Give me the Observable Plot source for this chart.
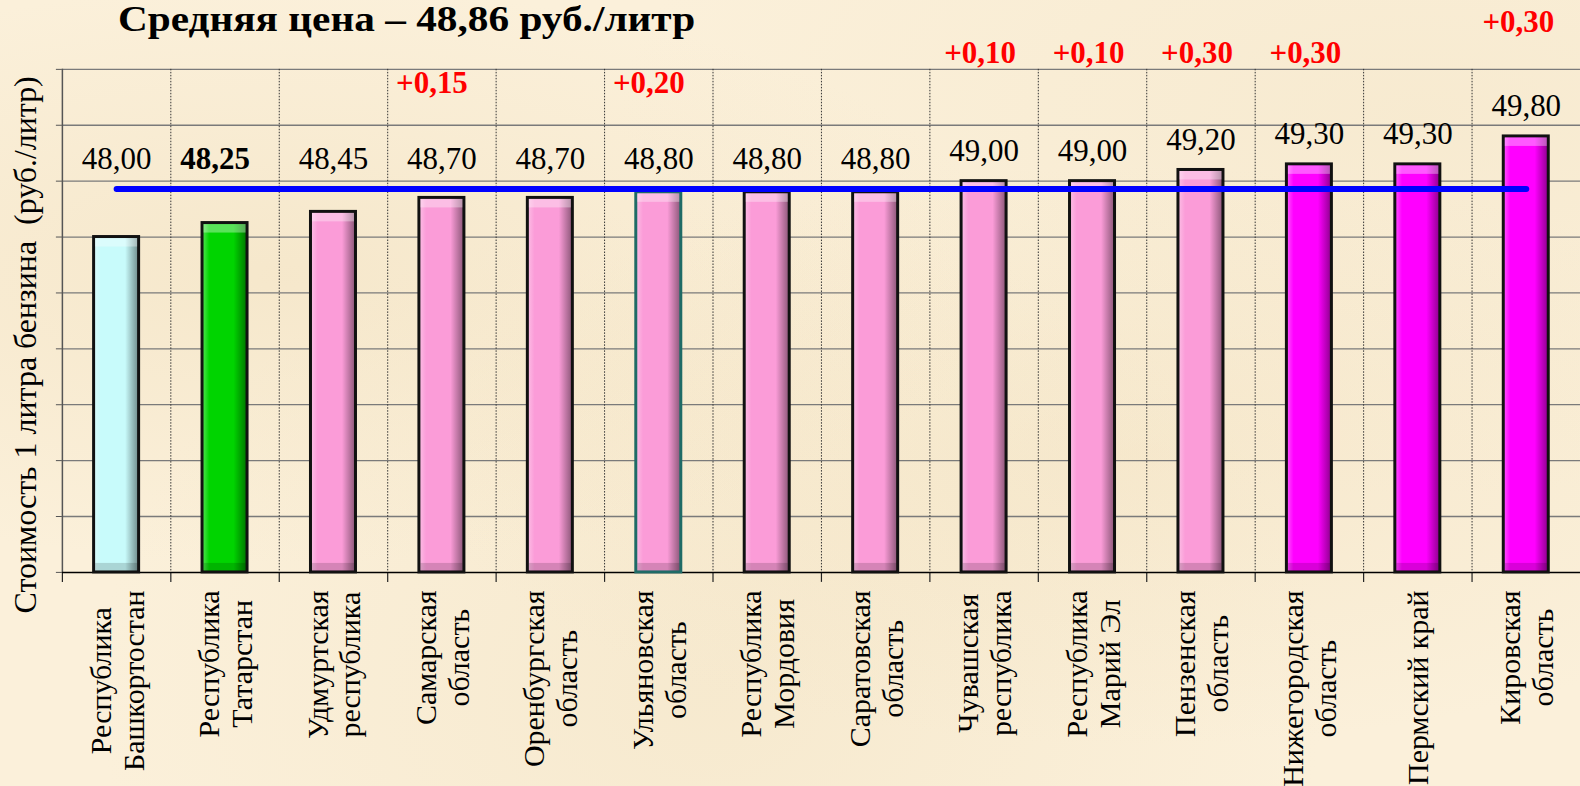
<!DOCTYPE html>
<html>
<head>
<meta charset="utf-8">
<script src="https://cdn.jsdelivr.net/npm/d3@7"></script>
<script src="https://cdn.jsdelivr.net/npm/@observablehq/plot@0.6"></script>
<style>
  html, body { margin: 0; padding: 0; width: 1580px; height: 786px; overflow: hidden; }
  #wrap {
    position: relative; width: 1580px; height: 786px; overflow: hidden;
    background:
      radial-gradient(ellipse at 18% 35%, rgba(236,216,176,0.35), rgba(236,216,176,0) 40%),
      radial-gradient(ellipse at 72% 58%, rgba(236,216,176,0.30), rgba(236,216,176,0) 45%),
      radial-gradient(ellipse at 45% 88%, rgba(240,224,190,0.40), rgba(240,224,190,0) 50%),
      radial-gradient(ellipse at 90% 15%, rgba(240,224,190,0.35), rgba(240,224,190,0) 40%),
      #fbf0da;
  }
  #title {
    position: absolute; left: 118px; top: 0px; z-index: 2; white-space: nowrap;
    font: bold 35px/normal "Liberation Serif", "Times New Roman", serif; color: #000;
    transform: scaleX(1.18); transform-origin: 0 0;
  }
  #chart { position: absolute; left: 0; top: 0; }
  #chart svg { display: block; }
</style>
</head>
<body>
<div id="wrap">
  <div id="title">Средняя цена – 48,86 руб./литр</div>
  <div id="chart"></div>
</div>
<script>
// ---------- data ----------
const regions = [
  "Республика\nБашкортостан",
  "Республика\nТатарстан",
  "Удмуртская\nреспублика",
  "Самарская\nобласть",
  "Оренбургская\nобласть",
  "Ульяновская\nобласть",
  "Республика\nМордовия",
  "Саратовская\nобласть",
  "Чувашская\nреспублика",
  "Республика\nМарий Эл",
  "Пензенская\nобласть",
  "Нижегородская\nобласть",
  "Пермский край",
  "Кировская\nобласть"
];
const prices = [48.00, 48.25, 48.45, 48.70, 48.70, 48.80, 48.80, 48.80, 49.00, 49.00, 49.20, 49.30, 49.30, 49.80];
const priceLabels = ["48,00", "48,25", "48,45", "48,70", "48,70", "48,80", "48,80", "48,80", "49,00", "49,00", "49,20", "49,30", "49,30", "49,80"];
const increments = [null, null, null, "+0,15", null, "+0,20", null, null, "+0,10", "+0,10", "+0,30", "+0,30", null, "+0,30"];
const averagePrice = 48.86;
const yTicks = [42, 43, 44, 45, 46, 47, 48, 49, 50, 51];
const yLabel = "Стоимость 1 литра бензина\u00a0\u00a0(руб./литр)";

// ---------- styling ----------
const W = 1583, H = 786, ML = 62, MR = 0, MT = 69, MB = 213;
const FONT = "'Liberation Serif', 'Times New Roman', serif";
const step = (W - ML - MR) / regions.length;
const palette = {cyan: "#c8fbfb", green: "#00d400", pink: "#fb9cd8", magenta: "#ff00ff"};
const groupOf = i => i === 0 ? "cyan" : i === 1 ? "green" : i >= 11 ? "magenta" : "pink";
const lowTier = new Set([3, 5]);
const topTier = new Set([13]);

const data = regions.map((r, i) => ({region: r, price: prices[i], label: priceLabels[i], inc: increments[i], i}));

// measure label widths for centered rotated multi-line labels
const ctx = document.createElement("canvas").getContext("2d");
ctx.font = "30px 'Liberation Serif'";
const maxLineW = s => Math.max(...s.split("\n").map(l => ctx.measureText(l).width));

const chart = Plot.plot({
  width: W, height: H,
  marginLeft: ML, marginRight: MR, marginTop: MT, marginBottom: MB,
  style: {fontFamily: FONT, background: "transparent", overflow: "visible"},
  x: {domain: regions, paddingInner: 0.585, paddingOuter: 0.2925, round: false, axis: null},
  y: {domain: [42, 51]},
  color: {type: "identity"},
  marks: [
    // horizontal grid
    Plot.ruleY(yTicks.slice(1), {stroke: "#7a7a7a", strokeWidth: 1.3}),
    // vertical dotted category separators
    Plot.ruleX(regions.slice(1), {x: d => d, dx: -step / 2, stroke: "#333", strokeWidth: 1, strokeDasharray: "1.5,1.5"}),
    // tick marks below baseline
    Plot.ruleX(regions, {x: d => d, dx: -step / 2, y1: 42, y2: 42, insetBottom: -10, stroke: "#222", strokeWidth: 1.2}),
    // left axis line
    Plot.ruleX([regions[0]], {x: d => d, dx: -step / 2, stroke: "#555", strokeWidth: 1.5}),
    Plot.axisY({ticks: yTicks, tickSize: 6, tickFormat: () => "", label: null, stroke: "#555"}),
    // baseline
    Plot.ruleY([42], {stroke: "#000", strokeWidth: 1.5}),
    // bars
    Plot.barY(data, {
      x: "region", y1: 42, y2: "price",
      fill: d => `url(#grad-${groupOf(d.i)})`,
      stroke: d => d.i === 5 ? "#1f6b66" : "#111",
      strokeWidth: 3
    }),
    // bevel: top highlight
    Plot.barY(data, {x: "region", y1: "price", y2: "price", insetTop: 1.5, insetBottom: -10, insetLeft: 1.5, insetRight: 1.5, fill: "#fff", fillOpacity: 0.35}),
    // bevel: bottom shade
    Plot.barY(data, {x: "region", y1: 42, y2: 42, insetTop: -9, insetBottom: 1.5, insetLeft: 1.5, insetRight: 1.5, fill: "#000", fillOpacity: 0.15}),
    // average line
    Plot.lineY(regions, {x: d => d, y: () => averagePrice, stroke: "#0000ff", strokeWidth: 6, strokeLinecap: "round"}),
    // value labels
    Plot.text(data.filter(d => d.i !== 1), {x: "region", y: d => Math.max(d.price, averagePrice), dy: -30, text: "label", fontSize: 31, lineAnchor: "middle", fill: "#000"}),
    Plot.text(data.filter(d => d.i === 1), {x: "region", y: d => Math.max(d.price, averagePrice), dy: -30, dx: -10, text: "label", fontSize: 31, fontWeight: "bold", lineAnchor: "middle", fill: "#000"}),
    // increments (red)
    Plot.text(data.filter(d => d.inc && lowTier.has(d.i)), {x: "region", frameAnchor: "top", dy: 14, dx: -10, text: "inc", fontSize: 31, fontWeight: "bold", fill: "#ff0000", lineAnchor: "middle"}),
    Plot.text(data.filter(d => d.inc && !lowTier.has(d.i) && !topTier.has(d.i)), {x: "region", frameAnchor: "top", dy: -16, dx: -4, text: "inc", fontSize: 31, fontWeight: "bold", fill: "#ff0000", lineAnchor: "middle"}),
    Plot.text(data.filter(d => d.inc && topTier.has(d.i)), {x: "region", frameAnchor: "top", dy: -47, dx: -8, text: "inc", fontSize: 31, fontWeight: "bold", fill: "#ff0000", lineAnchor: "middle"}),
    // category labels (rotated, centered lines, top of block below axis)
    ...regions.map(r => Plot.text([r], {
      x: d => d, text: d => d, frameAnchor: "bottom", rotate: -90,
      textAnchor: "middle", lineAnchor: "middle", lineHeight: 1.1,
      fontSize: 30, fill: "#000", dy: 18 + maxLineW(r) / 2
    })),
    // y axis title
    Plot.text([yLabel], {frameAnchor: "left", rotate: -90, dx: -37, dy: 24, fontSize: 32, textAnchor: "middle", lineAnchor: "middle", fill: "#000"})
  ]
});

// gradient definitions for the bevelled bars
const defs = d3.select(chart).insert("defs", ":first-child");
for (const [name, base] of Object.entries(palette)) {
  const g = defs.append("linearGradient").attr("id", `grad-${name}`)
    .attr("x1", 0).attr("x2", 1).attr("y1", 0).attr("y2", 0);
  const light = d3.interpolateRgb(base, "#ffffff")(0.35);
  const dark = d3.interpolateRgb(base, "#000000")(0.45);
  [[0, light], [0.16, base], [0.7, base], [1, dark]].forEach(([o, c]) =>
    g.append("stop").attr("offset", o).attr("stop-color", c));
}
document.getElementById("chart").appendChild(chart);
</script>
</body>
</html>
